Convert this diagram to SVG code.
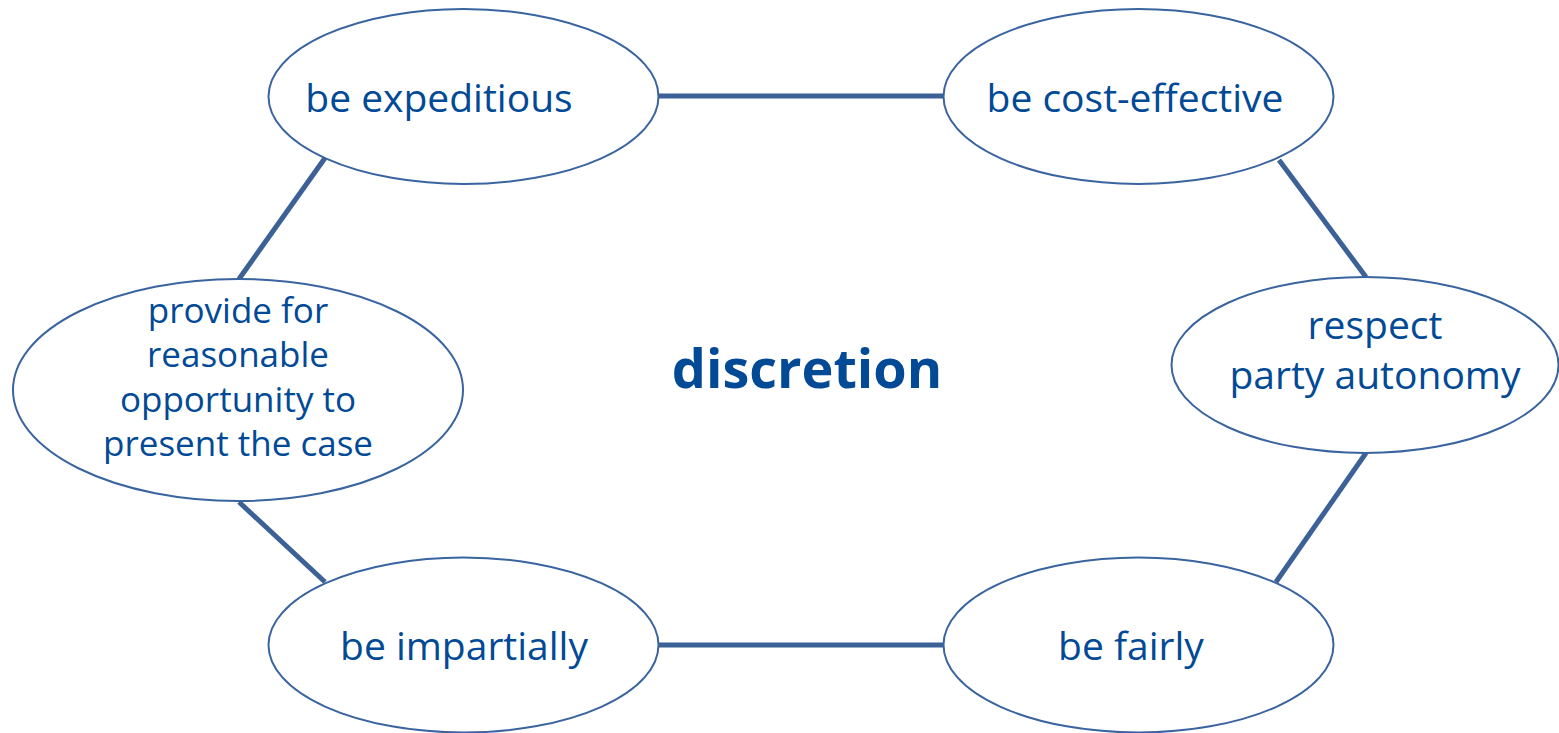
<svg xmlns="http://www.w3.org/2000/svg" width="1559" height="733" viewBox="0 0 1559 733">
<style>
.node ellipse{fill:#ffffff;stroke:#3a64a0;stroke-width:2}
.conn line{stroke:#3b6196;stroke-width:5;stroke-linecap:butt}
text{font-family:"Open Sans","Noto Sans",sans-serif;fill:#024a96;font-size:39px}
.t32{font-size:35px}
.big{font-size:54px;font-weight:bold}
</style>
<rect width="1559" height="733" fill="#ffffff"/>
<g class="conn" id="connectors">
<line x1="659" y1="96" x2="943" y2="96"/>
<line x1="325" y1="158" x2="239" y2="279"/>
<line x1="1279" y1="160" x2="1366" y2="277"/>
<line x1="1366" y1="453" x2="1276" y2="582"/>
<line x1="239" y1="502" x2="325" y2="582"/>
<line x1="659" y1="645" x2="943" y2="645"/>
</g>
<g class="node" id="expeditious">
<ellipse cx="463.5" cy="96.5" rx="195" ry="87.5"/>
<text x="439" y="112" text-anchor="middle">be expeditious</text>
</g>
<g class="node" id="cost-effective">
<ellipse cx="1138.5" cy="96.5" rx="195" ry="87.5"/>
<text x="1135" y="112" text-anchor="middle">be cost-effective</text>
</g>
<g class="node" id="autonomy">
<ellipse cx="1365" cy="365" rx="193.5" ry="88"/>
<text x="1375" y="339" text-anchor="middle">respect</text>
<text x="1375" y="389" text-anchor="middle">party autonomy</text>
</g>
<g class="node" id="opportunity">
<ellipse cx="238" cy="390" rx="225" ry="111"/>
<text class="t32" x="238" y="323" text-anchor="middle">provide for</text>
<text class="t32" x="238" y="367" text-anchor="middle">reasonable</text>
<text class="t32" x="238" y="412" text-anchor="middle">opportunity to</text>
<text class="t32" x="238" y="456" text-anchor="middle">present the case</text>
</g>
<g class="node" id="impartially">
<ellipse cx="463.5" cy="645" rx="195" ry="87.5"/>
<text x="464" y="660" text-anchor="middle">be impartially</text>
</g>
<g class="node" id="fairly">
<ellipse cx="1138.5" cy="645" rx="195" ry="87.5"/>
<text x="1131" y="660" text-anchor="middle">be fairly</text>
</g>
<g id="center">
<text class="big" x="807" y="388" text-anchor="middle">discretion</text>
</g>
</svg>
